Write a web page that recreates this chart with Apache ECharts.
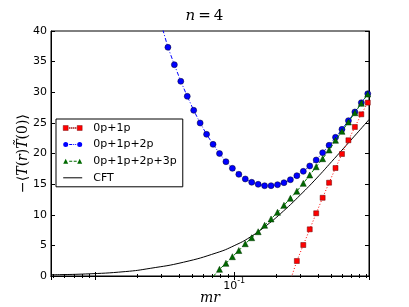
<!DOCTYPE html>
<html><head><meta charset="utf-8">
<script src="https://cdn.jsdelivr.net/npm/echarts@6/dist/echarts.min.js"></script>
<style>html,body{margin:0;padding:0;background:#fff;}#c{width:409px;height:307px;}</style>
</head><body><div id="c"></div>
<script>
// x positions (mr) of the lattice data points
const mrGrid = [0.02692, 0.02996, 0.03334, 0.03710, 0.04128, 0.04594, 0.05112, 0.05689, 0.06331, 0.07045,
  0.07840, 0.08724, 0.09708, 0.10803, 0.12022, 0.13378, 0.14887, 0.16566, 0.18435, 0.20514,
  0.22828, 0.25403, 0.28269, 0.31458, 0.35007, 0.38956, 0.43350, 0.48240, 0.53682, 0.59738,
  0.66477, 0.73976, 0.82321, 0.91608];
// 0p+1p (red squares)
const vals01 = [null, null, null, null, null, null, null, null, null, null,
  null, null, null, null, null, null, null, null, null, null,
  null, -0.7, 2.45, 5.06, 7.62, 10.24, 12.77, 15.23, 17.63, 19.92,
  22.16, 24.33, 26.40, 28.30];
// 0p+1p+2p (blue circles)
const vals012 = [46.0, 41.0, 37.34, 34.50, 31.79, 29.34, 27.05, 24.98, 23.13, 21.50,
  20.00, 18.66, 17.58, 16.60, 15.84, 15.30, 14.97, 14.74, 14.74, 14.91,
  15.23, 15.72, 16.38, 17.09, 17.96, 18.94, 20.13, 21.34, 22.64, 23.95,
  25.36, 26.78, 28.29, 29.76];
// 0p+1p+2p+3p (green triangles)
const vals0123 = [null, null, null, null, null, null, null, null, null, -0.1,
  1.09, 2.07, 3.15, 4.16, 5.27, 6.25, 7.23, 8.28, 9.31, 10.40,
  11.54, 12.69, 13.84, 15.13, 16.49, 17.84, 19.15, 20.57, 22.16, 23.62,
  25.14, 26.66, 28.20, 29.71];
// CFT curve
const cftMr = [0.00483, 0.00848, 0.01644, 0.02487, 0.04317, 0.07508, 0.1, 0.1303, 0.1719, 0.2263,
  0.2985, 0.3936, 0.5045, 0.6687, 0.9159, 0.935];
const cftVals = [0.21, 0.33, 0.72, 1.25, 2.25, 3.80, 4.95, 6.35, 8.3, 10.6,
  13.2, 16.0, 18.7, 21.8, 25.3, 25.55];
const seriesNames = ['0p+1p', '0p+1p+2p', '0p+1p+2p+3p', 'CFT'];
const xLabelValues = [0.1];
const xLabelTexts = ['{b|10}{s|-1}'];
const yMin = 0, yMax = 40, yStep = 5;
const xMin = 0.0048, xMax = 0.935;

function pairs(xs, ys) {
  const out = [];
  for (let i = 0; i < xs.length; i++) if (ys[i] !== null) out.push([xs[i], ys[i]]);
  return out;
}
const FONT = 'DejaVu Sans';
const SERIF = 'DejaVu Serif';
const blackLine = {show: true, lineStyle: {color: '#000', width: 1}};

// legend icons: marker at both ends with the series' line pattern between them
function dots(step, len, x0, x1, y, h) {
  let p = '';
  for (let x = x0; x + len <= x1 + 0.01; x += step) p += ' M' + x + ',' + y + 'h' + len + 'v' + h + 'h-' + len + 'z';
  return p;
}
const iconRed = 'path://M0,0h5v5h-5z M14,0h5v5h-5z' + dots(2, 1, 6, 13, 2, 1);
const iconBlue = 'path://M0,2.5a2.5,2.5 0 1,0 5,0a2.5,2.5 0 1,0 -5,0z M14,2.5a2.5,2.5 0 1,0 5,0a2.5,2.5 0 1,0 -5,0z'
  + ' M6,2h3v1h-3z M10,2h1v1h-1z M12,2h1v1h-1z';
const iconGreen = 'path://M0,5L2.5,0L5,5z M14,5L16.5,0L19,5z M6,2h3v1h-3z M10.5,2h3v1h-3z';
const iconBlack = 'path://M0,0h19v1h-19z';

function xAxisDef(pos, labels) {
  return {
    type: 'log', logBase: 10, min: xMin, max: xMax, position: pos,
    axisLine: blackLine,
    axisTick: {show: true, inside: true, length: 4, lineStyle: {color: '#000', width: 1}},
    minorTick: {show: true, splitNumber: 9, length: 2, lineStyle: {color: '#000', width: 1}},
    splitLine: {show: false}, minorSplitLine: {show: false},
    axisLabel: labels ? {
      show: true, interval: 0, hideOverlap: false, margin: 1, color: '#000',
      formatter: function (v) {
        for (let k = 0; k < xLabelValues.length; k++)
          if (Math.abs(v - xLabelValues[k]) < 1e-9) return xLabelTexts[k];
        return '';
      },
      rich: {
        b: {fontSize: 11, fontFamily: FONT, color: '#000', lineHeight: 15, verticalAlign: 'bottom'},
        s: {fontSize: 8, fontFamily: FONT, color: '#000', lineHeight: 15, verticalAlign: 'top'}
      }
    } : {show: false},
    name: labels ? 'mr' : '', nameLocation: 'middle', nameGap: 15, nameMoveOverlap: false,
    nameTextStyle: {fontFamily: SERIF, fontStyle: 'italic', fontSize: 14, color: '#000'}
  };
}
function yAxisDef(pos, labels) {
  return {
    type: 'value', min: yMin, max: yMax, interval: yStep, position: pos,
    axisLine: blackLine,
    axisTick: {show: true, inside: true, length: 4, lineStyle: {color: '#000', width: 1}},
    splitLine: {show: false},
    axisLabel: labels ? {show: true, fontSize: 11, fontFamily: FONT, color: '#000', margin: 4} : {show: false},
    name: labels ? '{a|−⟨}{t|T}{a|(}{t|r}{a|)}{t|T̃}{a|(0)⟩}' : '',
    nameLocation: 'middle', nameGap: 21, nameRotate: 90, nameMoveOverlap: false,
    nameTextStyle: {
      rich: {
        a: {fontFamily: SERIF, fontSize: 14, color: '#000'},
        t: {fontFamily: SERIF, fontStyle: 'italic', fontSize: 14, color: '#000'}
      }
    }
  };
}
const chart = echarts.init(document.getElementById('c'), null, {renderer: 'canvas'});
chart.setOption({
  animation: false,
  backgroundColor: '#fff',
  title: {
    text: '{i|n}{r|\u2009=\u20094}', left: 'center', top: 4,
    textStyle: {fontWeight: 'normal', rich: {
      i: {fontFamily: SERIF, fontStyle: 'italic', fontWeight: 'normal', fontSize: 15, color: '#000'},
      r: {fontFamily: SERIF, fontWeight: 'normal', fontSize: 15, color: '#000'}
    }}
  },
  grid: {left: 51, right: 40, top: 31, bottom: 31, show: true, borderColor: '#000', borderWidth: 1,
    containLabel: false, outerBoundsMode: 'none'},
  xAxis: [xAxisDef('bottom', true), xAxisDef('top', false)],
  yAxis: [yAxisDef('left', true), yAxisDef('right', false)],
  legend: {
    orient: 'vertical', left: 56, top: 119,
    data: [
      {name: seriesNames[0], icon: iconRed, itemStyle: {borderWidth: 0.4, borderColor: '#600'}},
      {name: seriesNames[1], icon: iconBlue, itemStyle: {borderWidth: 0}},
      {name: seriesNames[2], icon: iconGreen, itemStyle: {borderWidth: 0}},
      {name: seriesNames[3], icon: iconBlack, itemStyle: {borderWidth: 0, color: '#000'}}
    ],
    itemWidth: 19, itemHeight: 12, itemGap: 4.6,
    padding: [3, 6, 3, 7],
    borderColor: '#000', borderWidth: 1, backgroundColor: '#fff', borderRadius: 0,
    textStyle: {fontFamily: FONT, fontSize: 11, color: '#000', padding: [0, 0, 0, 6], lineHeight: 12}
  },
  series: [
    {
      name: seriesNames[0], type: 'line', data: pairs(mrGrid, vals01),
      symbol: 'rect', symbolSize: 5, showAllSymbol: true,
      itemStyle: {color: '#ff0000', borderColor: '#600', borderWidth: 0.5},
      lineStyle: {color: '#ff0000', width: 1, type: [1, 2]}, z: 3
    },
    {
      name: seriesNames[1], type: 'line', data: pairs(mrGrid, vals012),
      symbol: 'circle', symbolSize: 6, showAllSymbol: true,
      itemStyle: {color: '#0000ff', borderColor: '#002', borderWidth: 0.5},
      lineStyle: {color: '#0000ff', width: 1, type: [4, 2, 1, 2]}, z: 2
    },
    {
      name: seriesNames[2], type: 'line', data: pairs(mrGrid, vals0123),
      symbol: 'triangle', symbolSize: 6, showAllSymbol: true,
      itemStyle: {color: '#006a00', borderColor: '#030', borderWidth: 0.5},
      lineStyle: {color: '#008000', width: 1, type: [4, 2]}, z: 4
    },
    {
      name: seriesNames[3], type: 'line', data: pairs(cftMr, cftVals),
      symbol: 'none', smooth: 0.5,
      itemStyle: {color: '#000'},
      lineStyle: {color: '#000', width: 1, type: 'solid'}, z: 1
    }
  ]
});
</script>
</body></html>
